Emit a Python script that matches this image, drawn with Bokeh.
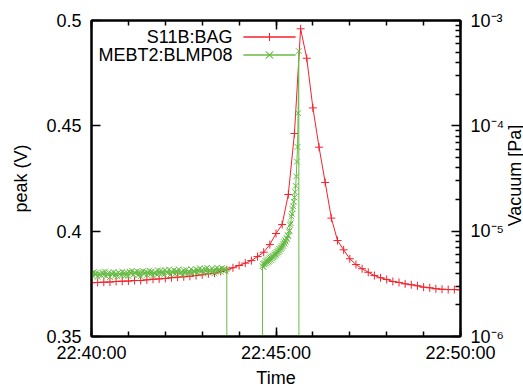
import math
from datetime import datetime, timedelta

from bokeh.plotting import figure
from bokeh.layouts import row
from bokeh.models import (Range1d, LogScale, LogAxis, DatetimeAxis, FixedTicker,
                          DatetimeTickFormatter, CustomJSTickFormatter, Label,
                          PolyAnnotation)
from bokeh.embed import file_html
from bokeh.resources import INLINE

# ---------------- data ----------------
T0 = datetime(2014, 1, 1, 22, 40, 0)

# S11B:BAG vacuum [Pa], sampled every 10 s from 22:40:00 to 22:50:00
bag_seconds = list(range(0, 601, 10))
bag_vacuum = [3.24e-6, 3.26e-6, 3.28e-6, 3.29e-6, 3.33e-6, 3.35e-6, 3.36e-6, 3.40e-6, 3.40e-6, 3.45e-6,
              3.50e-6, 3.52e-6, 3.56e-6, 3.61e-6, 3.66e-6, 3.69e-6, 3.73e-6, 3.79e-6, 3.85e-6, 3.94e-6,
              3.99e-6, 4.14e-6, 4.30e-6, 4.49e-6, 4.72e-6, 4.97e-6, 5.26e-6, 5.74e-6, 6.31e-6, 7.46e-6,
              9.50e-6, 1.156e-5, 2.23e-5, 8.45e-5, 8.34e-4, 4.38e-4, 1.48e-4, 6.27e-5, 2.90e-5, 1.33e-5,
              8.15e-6, 6.65e-6, 5.47e-6, 4.82e-6, 4.40e-6, 4.07e-6, 3.79e-6, 3.61e-6, 3.48e-6, 3.33e-6,
              3.26e-6, 3.16e-6, 3.10e-6, 3.03e-6, 2.94e-6, 2.90e-6, 2.84e-6, 2.81e-6, 2.79e-6, 2.79e-6,
              2.77e-6]

# MEBT2:BLMP08 peak (V): quiet period (every 2 s), then signal drop-out
blm_quiet_seconds = list(range(0, 221, 2))
blm_quiet_peak = [0.3798, 0.3787, 0.3806, 0.3793, 0.3802, 0.3783, 0.3799, 0.3795, 0.3789, 0.3805,
                  0.3792, 0.3808, 0.3786, 0.3797, 0.3803, 0.3782, 0.3800, 0.3794, 0.3806, 0.3788,
                  0.3799, 0.3785, 0.3804, 0.3796, 0.3790, 0.3808, 0.3791, 0.3802,
                  0.3790, 0.3803, 0.3787, 0.3808, 0.3800, 0.3812, 0.3794, 0.3805, 0.3798, 0.3810,
                  0.3791, 0.3806, 0.3785, 0.3804, 0.3811, 0.3797, 0.3807, 0.3792, 0.3802, 0.3813,
                  0.3795, 0.3809, 0.3789, 0.3801, 0.3806, 0.3793, 0.3814, 0.3799,
                  0.3812, 0.3798, 0.3809, 0.3794, 0.3816, 0.3805, 0.3801, 0.3818, 0.3793, 0.3810,
                  0.3803, 0.3815, 0.3796, 0.3811, 0.3806, 0.3819, 0.3799, 0.3808, 0.3792, 0.3814,
                  0.3802, 0.3817, 0.3797, 0.3809, 0.3805, 0.3820, 0.3800, 0.3812,
                  0.3806, 0.3819, 0.3801, 0.3814, 0.3824, 0.3809, 0.3817, 0.3799, 0.3821, 0.3811,
                  0.3826, 0.3804, 0.3816, 0.3808, 0.3823, 0.3813, 0.3800, 0.3818, 0.3827, 0.3810,
                  0.3820, 0.3807, 0.3825, 0.3815, 0.3822, 0.3812, 0.3819]
# drop-out to zero, gap (nan), back from zero
blm_dropout_seconds = [220.6, 250, 277.5]
blm_dropout_peak = [0.0, float("nan"), 0.0]
# rising part (every 1 s) before the final drop-out
blm_rise_seconds = list(range(278, 339))
blm_rise_peak = [0.3834, 0.3845, 0.3829, 0.3850, 0.3841, 0.3858, 0.3846, 0.3862, 0.3851, 0.3866,
                 0.3855, 0.3871, 0.3860, 0.3875, 0.3864, 0.3880, 0.3869, 0.3884, 0.3876, 0.3890,
                 0.3881, 0.3896, 0.3887, 0.3902, 0.3893, 0.3909, 0.3900, 0.3916, 0.3906, 0.3922,
                 0.3914, 0.3930, 0.3921, 0.3939, 0.3930, 0.3948, 0.3940, 0.3957, 0.3950, 0.3968,
                 0.3962, 0.3981, 0.3976, 0.3998, 0.4003, 0.4030, 0.4038, 0.4070, 0.4082, 0.4105,
                 0.4118, 0.4140, 0.4160, 0.4185, 0.4215, 0.4260, 0.4330, 0.4400, 0.4560, 0.4855,
                 0.0]

series_names = ["S11B:BAG", "MEBT2:BLMP08"]
x_major_labels = ["22:40:00", "22:45:00", "22:50:00"]
left_ticks = [0.35, 0.4, 0.45, 0.5]
right_ticks = [1e-6, 1e-5, 1e-4, 1e-3]

# ---------------- helpers ----------------
EPOCH = datetime(1970, 1, 1)


def ms(dt):
    return (dt - EPOCH).total_seconds() * 1000.0


bag_x = [T0 + timedelta(seconds=s) for s in bag_seconds]
blm_seconds = blm_quiet_seconds + blm_dropout_seconds + blm_rise_seconds
blm_peak = blm_quiet_peak + blm_dropout_peak + blm_rise_peak
blm_x = [T0 + timedelta(seconds=s) for s in blm_seconds]

RED = "#f5222d"
GREEN = "#66bb44"
FONT = "Liberation Sans"
FS = "18px"

x_major = [ms(datetime.strptime("2014-01-01 " + s, "%Y-%m-%d %H:%M:%S")) for s in x_major_labels]
x_minor = [ms(T0 + timedelta(minutes=m)) for m in range(0, 11)]
x_ticker = FixedTicker(ticks=x_major, minor_ticks=x_minor)

p = figure(frame_width=369, frame_height=316, output_backend="svg", toolbar_location=None,
           x_axis_type="datetime",
           x_range=Range1d(T0, T0 + timedelta(seconds=600)),
           y_range=Range1d(0.35, 0.5),
           min_border_left=91, min_border_right=43, min_border_top=20, min_border_bottom=50)
p.extra_y_ranges = {"vac": Range1d(1e-6, 1e-3)}
p.extra_y_scales = {"vac": LogScale()}
p.xgrid.visible = False
p.ygrid.visible = False
p.outline_line_color = "black"
p.outline_line_width = 2
p.background_fill_color = "white"
p.border_fill_color = "white"

fmt = "%H:%M:%S"
dt_fmt = DatetimeTickFormatter(microseconds=fmt, milliseconds=fmt, seconds=fmt, minsec=fmt,
                               minutes=fmt, hourmin=fmt, hours=fmt, days=fmt, months=fmt,
                               years=fmt, strip_leading_zeros=False)


def style_axis(ax, major_in=9, minor_in=5):
    ax.axis_line_width = 2
    ax.axis_line_color = "black"
    ax.major_tick_in = major_in
    ax.major_tick_out = 0
    ax.minor_tick_in = minor_in
    ax.minor_tick_out = 0
    ax.major_tick_line_width = 1.5
    ax.minor_tick_line_width = 1.5
    ax.major_tick_line_color = "black"
    ax.minor_tick_line_color = "black"
    ax.major_label_text_font = FONT
    ax.major_label_text_font_size = FS
    ax.major_label_text_color = "black"
    ax.axis_label_text_font = FONT
    ax.axis_label_text_font_size = FS
    ax.axis_label_text_font_style = "normal"
    ax.axis_label_text_color = "black"


xa = p.xaxis[0]
xa.ticker = x_ticker
xa.formatter = dt_fmt
xa.axis_label = "Time"
style_axis(xa)
xa.major_label_standoff = 6
xa.axis_label_standoff = 2

ya = p.yaxis[0]
ya.ticker = FixedTicker(ticks=left_ticks)
ya.formatter = CustomJSTickFormatter(code="return tick.toString();")
ya.axis_label = "peak (V)"
style_axis(ya)
ya.minor_tick_line_color = None
ya.major_label_standoff = 10
ya.axis_label_standoff = 12

top = DatetimeAxis(ticker=x_ticker, formatter=CustomJSTickFormatter(code="return '';"))
style_axis(top)
top.major_label_standoff = 0
top.major_label_text_font_size = "0px"
p.add_layout(top, "above")

minor_log = [m * 10.0 ** e for e in (-6, -5, -4) for m in range(2, 10)]
ra = LogAxis(y_range_name="vac", ticker=FixedTicker(ticks=right_ticks, minor_ticks=minor_log),
             formatter=CustomJSTickFormatter(code="""
const sup = {'-':'\u207b','0':'\u2070','1':'\u00b9','2':'\u00b2','3':'\u00b3','4':'\u2074',
             '5':'\u2075','6':'\u2076','7':'\u2077','8':'\u2078','9':'\u2079'};
const e = Math.round(Math.log10(tick));
return '10' + String(e).split('').map(c => sup[c]).join('');
"""))
style_axis(ra)
ra.major_label_standoff = 10
p.add_layout(ra, "right")

# ---------------- glyphs ----------------
p.line(bag_x, bag_vacuum, y_range_name="vac", line_color=RED, line_width=1)
p.scatter(bag_x, bag_vacuum, y_range_name="vac", marker="cross", size=8,
          line_color=RED, line_width=1)
p.line(blm_x, blm_peak, line_color=GREEN, line_width=1)
p.scatter(blm_x, blm_peak, marker="x", size=8, line_color=GREEN, line_width=1)

# ---------------- key (text on the left, sample on the right) ----------------
KX0, KX1, KXC = 152, 204, 178          # sample line (px from frame left)
rows = [(299.5, RED, "cross"), (281.5, GREEN, "x")]  # px from frame bottom
for name, (ky, col, mk) in zip(series_names, rows):
    p.add_layout(Label(x=141, y=ky, x_units="screen", y_units="screen", text=name,
                       text_align="right", text_baseline="middle", text_font=FONT,
                       text_font_size=FS, text_color="black"))
    if mk == "cross":
        xs = [KX0, KX1, KXC, KXC, KXC, KXC]
        ys = [ky, ky, ky, ky + 4, ky - 4, ky]
    else:
        d = 3.5
        xs = [KX0, KX1, KXC, KXC + d, KXC - d, KXC, KXC + d, KXC - d, KXC]
        ys = [ky, ky, ky, ky + d, ky - d, ky, ky - d, ky + d, ky]
    p.add_layout(PolyAnnotation(xs=xs, ys=ys, xs_units="screen", ys_units="screen",
                                line_color=col, line_width=1, line_alpha=1.0,
                                fill_alpha=0.0))

# ---------------- right-hand axis title (reads bottom to top) ----------------
# the side figure's frame is aligned with the main frame (bottom at 336 px)
side = figure(width=16, height=388, output_backend="svg", toolbar_location=None,
              x_axis_location=None, y_axis_location=None, min_border=0,
              x_range=Range1d(0, 1), y_range=Range1d(0, 1))
side.outline_line_color = None
side.xgrid.visible = False
side.ygrid.visible = False
side.add_layout(Label(x=7, y=159, x_units="screen", y_units="screen",
                      text="Vacuum [Pa]", angle=math.pi / 2, text_align="center",
                      text_baseline="middle", text_font=FONT, text_font_size=FS,
                      text_color="black"))

layout = row(p, side, spacing=0)
open("out.html", "w").write(file_html(layout, INLINE))
